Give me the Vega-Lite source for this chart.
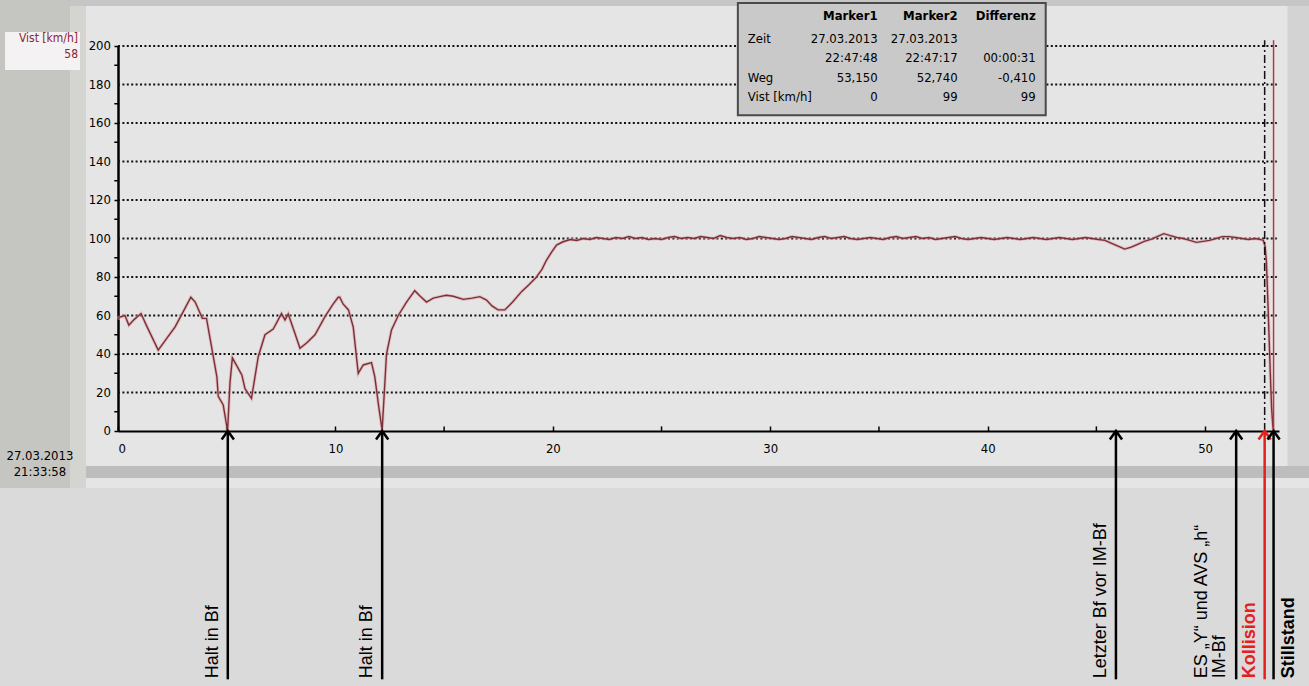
{
  "$schema": "https://vega.github.io/schema/vega-lite/v6.json",
  "width": 1161,
  "height": 385,
  "autosize": {"type": "none"},
  "padding": {"left": 118, "top": 46, "right": 30, "bottom": 255},
  "background": "#e5e5e5",
  "config": {"view": {"stroke": null}, "axis": {"labelOverlap": false}},
  "datasets": {
    "fahrt": [
      {"km": 0.0, "vist": 58}, {"km": 0.05, "vist": 59}, {"km": 0.32, "vist": 60}, {"km": 0.5, "vist": 55},
      {"km": 0.75, "vist": 58}, {"km": 1.06, "vist": 61}, {"km": 1.3, "vist": 55}, {"km": 1.85, "vist": 42},
      {"km": 2.3, "vist": 49}, {"km": 2.62, "vist": 54}, {"km": 3.0, "vist": 62}, {"km": 3.35, "vist": 69.5},
      {"km": 3.55, "vist": 67}, {"km": 3.88, "vist": 58.5}, {"km": 4.07, "vist": 58.5}, {"km": 4.3, "vist": 44},
      {"km": 4.55, "vist": 28}, {"km": 4.61, "vist": 18}, {"km": 4.84, "vist": 13.5}, {"km": 5.04, "vist": 0},
      {"km": 5.15, "vist": 25}, {"km": 5.26, "vist": 38}, {"km": 5.53, "vist": 32.5}, {"km": 5.7, "vist": 29},
      {"km": 5.84, "vist": 22}, {"km": 6.14, "vist": 17}, {"km": 6.45, "vist": 38.6}, {"km": 6.76, "vist": 50},
      {"km": 7.14, "vist": 53}, {"km": 7.52, "vist": 61}, {"km": 7.68, "vist": 57.7}, {"km": 7.83, "vist": 60.8},
      {"km": 8.1, "vist": 52}, {"km": 8.37, "vist": 43}, {"km": 8.7, "vist": 46}, {"km": 9.06, "vist": 50},
      {"km": 9.52, "vist": 59.4}, {"km": 9.9, "vist": 66}, {"km": 10.13, "vist": 69.5}, {"km": 10.2, "vist": 69.5},
      {"km": 10.35, "vist": 66}, {"km": 10.6, "vist": 62.9}, {"km": 10.82, "vist": 54}, {"km": 11.05, "vist": 30},
      {"km": 11.28, "vist": 34.3}, {"km": 11.66, "vist": 35.5}, {"km": 11.81, "vist": 28.2}, {"km": 12.0, "vist": 12},
      {"km": 12.15, "vist": 0.5}, {"km": 12.35, "vist": 40}, {"km": 12.58, "vist": 52.5}, {"km": 12.89, "vist": 60},
      {"km": 13.27, "vist": 67}, {"km": 13.65, "vist": 72.9}, {"km": 13.9, "vist": 70}, {"km": 14.19, "vist": 67},
      {"km": 14.5, "vist": 69}, {"km": 14.8, "vist": 69.8}, {"km": 15.1, "vist": 70.5}, {"km": 15.42, "vist": 70},
      {"km": 15.88, "vist": 68.4}, {"km": 16.3, "vist": 69}, {"km": 16.64, "vist": 69.8}, {"km": 16.95, "vist": 68},
      {"km": 17.2, "vist": 65}, {"km": 17.48, "vist": 62.9}, {"km": 17.79, "vist": 62.9}, {"km": 18.15, "vist": 67},
      {"km": 18.56, "vist": 72.4}, {"km": 18.9, "vist": 76}, {"km": 19.25, "vist": 80}, {"km": 19.5, "vist": 84},
      {"km": 19.71, "vist": 88.8}, {"km": 19.95, "vist": 93}, {"km": 20.17, "vist": 96.6}, {"km": 20.47, "vist": 98.3},
      {"km": 20.8, "vist": 99.5}, {"km": 21.1, "vist": 99}, {"km": 21.4, "vist": 100}, {"km": 21.7, "vist": 99.5},
      {"km": 22.0, "vist": 100.5}, {"km": 22.3, "vist": 100}, {"km": 22.6, "vist": 99.5}, {"km": 22.9, "vist": 100.5},
      {"km": 23.2, "vist": 100}, {"km": 23.5, "vist": 101}, {"km": 23.8, "vist": 100}, {"km": 24.1, "vist": 100.5},
      {"km": 24.4, "vist": 99.5}, {"km": 24.7, "vist": 100}, {"km": 25.0, "vist": 99.5}, {"km": 25.3, "vist": 100.5},
      {"km": 25.6, "vist": 101}, {"km": 25.9, "vist": 100}, {"km": 26.2, "vist": 100.5}, {"km": 26.5, "vist": 100},
      {"km": 26.8, "vist": 101}, {"km": 27.1, "vist": 100.5}, {"km": 27.4, "vist": 100}, {"km": 27.7, "vist": 101.5},
      {"km": 28.0, "vist": 100.5}, {"km": 28.3, "vist": 100}, {"km": 28.6, "vist": 100.5}, {"km": 28.9, "vist": 99.5},
      {"km": 29.2, "vist": 100}, {"km": 29.5, "vist": 101}, {"km": 29.8, "vist": 100.5}, {"km": 30.1, "vist": 100},
      {"km": 30.4, "vist": 99.5}, {"km": 30.7, "vist": 100}, {"km": 31.0, "vist": 101}, {"km": 31.3, "vist": 100.5},
      {"km": 31.6, "vist": 100}, {"km": 31.9, "vist": 99.5}, {"km": 32.2, "vist": 100.5}, {"km": 32.5, "vist": 101},
      {"km": 32.8, "vist": 100}, {"km": 33.1, "vist": 100.5}, {"km": 33.4, "vist": 101}, {"km": 33.7, "vist": 100},
      {"km": 34.0, "vist": 99.5}, {"km": 34.3, "vist": 100}, {"km": 34.6, "vist": 100.5}, {"km": 34.9, "vist": 100},
      {"km": 35.2, "vist": 99.5}, {"km": 35.5, "vist": 100.5}, {"km": 35.8, "vist": 101}, {"km": 36.1, "vist": 100},
      {"km": 36.4, "vist": 100.5}, {"km": 36.7, "vist": 101}, {"km": 37.0, "vist": 100}, {"km": 37.3, "vist": 100.5},
      {"km": 37.6, "vist": 99.5}, {"km": 37.9, "vist": 100}, {"km": 38.2, "vist": 100.5}, {"km": 38.5, "vist": 101},
      {"km": 38.8, "vist": 100}, {"km": 39.1, "vist": 99.5}, {"km": 39.4, "vist": 100}, {"km": 39.7, "vist": 100.5},
      {"km": 40.0, "vist": 100}, {"km": 40.3, "vist": 99.5}, {"km": 40.6, "vist": 100}, {"km": 40.9, "vist": 100.5},
      {"km": 41.2, "vist": 100}, {"km": 41.5, "vist": 99.5}, {"km": 41.8, "vist": 100}, {"km": 42.1, "vist": 100.5},
      {"km": 42.4, "vist": 100}, {"km": 42.7, "vist": 99.5}, {"km": 43.0, "vist": 100}, {"km": 43.3, "vist": 100.5},
      {"km": 43.6, "vist": 100}, {"km": 43.9, "vist": 99.5}, {"km": 44.2, "vist": 100}, {"km": 44.5, "vist": 100.5},
      {"km": 44.8, "vist": 100}, {"km": 45.1, "vist": 99.5}, {"km": 45.4, "vist": 99}, {"km": 45.7, "vist": 97.5},
      {"km": 46.0, "vist": 96}, {"km": 46.3, "vist": 94.5}, {"km": 46.6, "vist": 95.5}, {"km": 46.9, "vist": 97},
      {"km": 47.2, "vist": 98.5}, {"km": 47.5, "vist": 99.5}, {"km": 47.8, "vist": 101}, {"km": 48.1, "vist": 102.5},
      {"km": 48.4, "vist": 101.5}, {"km": 48.7, "vist": 100.5}, {"km": 49.0, "vist": 100}, {"km": 49.3, "vist": 99},
      {"km": 49.6, "vist": 98}, {"km": 49.9, "vist": 98.5}, {"km": 50.2, "vist": 99}, {"km": 50.5, "vist": 100},
      {"km": 50.8, "vist": 101}, {"km": 51.1, "vist": 101}, {"km": 51.4, "vist": 100.5}, {"km": 51.7, "vist": 100},
      {"km": 52.0, "vist": 99.5}, {"km": 52.3, "vist": 100}, {"km": 52.55, "vist": 99.5}, {"km": 52.68, "vist": 99},
      {"km": 52.76, "vist": 96}, {"km": 52.82, "vist": 88}, {"km": 52.88, "vist": 70}, {"km": 52.94, "vist": 50},
      {"km": 53.0, "vist": 30}, {"km": 53.06, "vist": 12}, {"km": 53.12, "vist": 2}, {"km": 53.15, "vist": 0}
    ],
    "ywerte": [
      {"vist": 0}, {"vist": 20}, {"vist": 40}, {"vist": 60}, {"vist": 80}, {"vist": 100},
      {"vist": 120}, {"vist": 140}, {"vist": 160}, {"vist": 180}, {"vist": 200}
    ],
    "zwischenstriche_y": [
      {"vist": 10}, {"vist": 30}, {"vist": 50}, {"vist": 70}, {"vist": 90},
      {"vist": 110}, {"vist": 130}, {"vist": 150}, {"vist": 170}, {"vist": 190}
    ],
    "zwischenstriche_x": [
      {"km": 5}, {"km": 15}, {"km": 25}, {"km": 35}, {"km": 45}
    ],
    "marker": [
      {"marker": "Marker1", "km": 53.15, "vist": 0},
      {"marker": "Marker2", "km": 52.74, "vist": 99}
    ],
    "tabelle": [
      {"spalte": "Bezeichnung", "kopf": "Zeit", "werte": "Weg\nVist [km/h]"},
      {"spalte": "Marker1", "kopf": "Marker1", "werte": "27.03.2013\n22:47:48\n53,150\n0"},
      {"spalte": "Marker2", "kopf": "Marker2", "werte": "27.03.2013\n22:47:17\n52,740\n99"},
      {"spalte": "Differenz", "kopf": "Differenz", "werte": "\u00a0\n00:00:31\n-0,410\n99"}
    ],
    "ereignisse": [
      {"km": 5.05, "ereignis": "Halt in Bf"},
      {"km": 12.15, "ereignis": "Halt in Bf"},
      {"km": 45.9, "ereignis": "Letzter Bf vor IM-Bf"},
      {"km": 51.43, "ereignis": "ES „Y“ und AVS „h“\nIM-Bf"},
      {"km": 52.74, "ereignis": "Kollision"},
      {"km": 53.15, "ereignis": "Stillstand"}
    ]
  },
  "layer": [
    {
      "data": {"name": "ywerte"},
      "transform": [{"filter": "datum.vist > 0"}],
      "mark": {"type": "rule", "color": "#111111", "strokeWidth": 2, "strokeDash": [2, 2.4]},
      "encoding": {
        "x": {
          "datum": 0, "type": "quantitative",
          "scale": {"domain": [0, 53.4], "nice": false, "zero": false},
          "axis": {
            "title": null,
            "values": [0, 10, 20, 30, 40, 50],
            "grid": false,
            "domainColor": "#000", "domainWidth": 2,
            "tickColor": "#000", "tickWidth": 1.5, "tickSize": -5,
            "labelPadding": 16,
            "labelFont": "Liberation Sans Narrow, DejaVu Sans Condensed, sans-serif",
            "labelFontSize": 13, "labelColor": "#000"
          }
        },
        "x2": {"datum": 53.3},
        "y": {
          "field": "vist", "type": "quantitative",
          "scale": {"domain": [0, 200], "nice": false},
          "axis": {
            "title": null,
            "values": [0, 20, 40, 60, 80, 100, 120, 140, 160, 180, 200],
            "grid": false,
            "labels": false,
            "domainColor": "#000", "domainWidth": 2.5,
            "tickColor": "#000", "tickWidth": 1.5, "tickSize": 4
          }
        }
      }
    },
    {
      "data": {"name": "zwischenstriche_y"},
      "mark": {"type": "rule", "color": "#000000", "strokeWidth": 1.5},
      "encoding": {
        "x": {"datum": -0.17, "type": "quantitative"},
        "x2": {"datum": 0},
        "y": {"field": "vist", "type": "quantitative"}
      }
    },
    {
      "data": {"name": "zwischenstriche_x"},
      "mark": {"type": "rule", "color": "#000000", "strokeWidth": 1.5},
      "encoding": {
        "x": {"field": "km", "type": "quantitative"},
        "y": {"datum": 0, "type": "quantitative"},
        "y2": {"datum": 2.4}
      }
    },
    {
      "data": {"name": "fahrt"},
      "mark": {"type": "line", "color": "#d9a3aa", "strokeWidth": 3.2, "opacity": 0.6},
      "encoding": {
        "x": {"field": "km", "type": "quantitative"},
        "y": {"field": "vist", "type": "quantitative"}
      }
    },
    {
      "data": {"name": "fahrt"},
      "mark": {"type": "line", "color": "#7d2f36", "strokeWidth": 1.4},
      "encoding": {
        "x": {"field": "km", "type": "quantitative"},
        "y": {"field": "vist", "type": "quantitative"}
      }
    },
    {
      "data": {"values": [{}]},
      "mark": {"type": "rect", "color": "#c5c5c1"},
      "encoding": {
        "x": {"datum": -5.5, "type": "quantitative"},
        "x2": {"datum": -2.207},
        "y": {"datum": 224, "type": "quantitative"},
        "y2": {"datum": -29.6}
      }
    },
    {
      "data": {"values": [{}]},
      "mark": {"type": "rect", "color": "#d4d4d0"},
      "encoding": {
        "x": {"datum": -2.207, "type": "quantitative"},
        "x2": {"datum": -1.471},
        "y": {"datum": 224, "type": "quantitative"},
        "y2": {"datum": -29.6}
      }
    },
    {
      "data": {"values": [{}]},
      "mark": {"type": "rect", "color": "#c6c6c6"},
      "encoding": {
        "x": {"datum": -2.207, "type": "quantitative"},
        "x2": {"datum": 54.8},
        "y": {"datum": 224, "type": "quantitative"},
        "y2": {"datum": 220.8}
      }
    },
    {
      "data": {"values": [{}]},
      "mark": {"type": "rect", "color": "#d3d3d3"},
      "encoding": {
        "x": {"datum": 53.79, "type": "quantitative"},
        "x2": {"datum": 54.8},
        "y": {"datum": 220.8, "type": "quantitative"},
        "y2": {"datum": -18.2}
      }
    },
    {
      "data": {"values": [{}]},
      "mark": {"type": "rect", "color": "#bdbdbd"},
      "encoding": {
        "x": {"datum": -1.471, "type": "quantitative"},
        "x2": {"datum": 54.8},
        "y": {"datum": -18.2, "type": "quantitative"},
        "y2": {"datum": -24.4}
      }
    },
    {
      "data": {"values": [{}]},
      "mark": {"type": "rect", "color": "#dadada"},
      "encoding": {
        "x": {"datum": -5.5, "type": "quantitative"},
        "x2": {"datum": 54.8},
        "y": {"datum": -29.6, "type": "quantitative"},
        "y2": {"datum": -133}
      }
    },
    {
      "data": {"values": [{}]},
      "mark": {"type": "rect", "color": "#f4f2f2"},
      "encoding": {
        "x": {"datum": -5.195, "type": "quantitative"},
        "x2": {"datum": -1.747},
        "y": {"datum": 207.3, "type": "quantitative"},
        "y2": {"datum": 187.5}
      }
    },
    {
      "data": {"name": "ywerte"},
      "mark": {"type": "text", "align": "right", "baseline": "middle", "dx": -7, "font": "Liberation Sans Narrow, DejaVu Sans Condensed, sans-serif", "fontSize": 13, "color": "#000"},
      "encoding": {
        "x": {"datum": 0, "type": "quantitative"},
        "y": {"field": "vist", "type": "quantitative"},
        "text": {"field": "vist", "type": "quantitative"}
      }
    },
    {
      "data": {"values": [{}]},
      "mark": {"type": "text", "align": "right", "baseline": "top", "lineBreak": "\n", "lineHeight": 16, "font": "Liberation Sans Narrow, DejaVu Sans Condensed, sans-serif", "fontSize": 12, "color": "#8b2332"},
      "encoding": {
        "x": {"datum": -1.84, "type": "quantitative"},
        "y": {"datum": 206.5, "type": "quantitative"},
        "text": {"value": "Vist [km/h]\n58"}
      }
    },
    {
      "data": {"values": [{}]},
      "mark": {"type": "text", "align": "center", "baseline": "top", "lineBreak": "\n", "lineHeight": 16, "font": "Liberation Sans Narrow, DejaVu Sans Condensed, sans-serif", "fontSize": 13, "color": "#000"},
      "encoding": {
        "x": {"datum": -3.59, "type": "quantitative"},
        "y": {"datum": -9.9, "type": "quantitative"},
        "text": {"value": "27.03.2013\n21:33:58"}
      }
    },
    {
      "data": {"name": "marker"},
      "mark": {"type": "rule", "strokeWidth": 1.5},
      "encoding": {
        "x": {"field": "km", "type": "quantitative"},
        "y": {"datum": 0, "type": "quantitative"},
        "y2": {"datum": 203},
        "color": {"field": "marker", "type": "nominal", "scale": {"domain": ["Marker1", "Marker2"], "range": ["#b03a48", "#111111"]}, "legend": null},
        "strokeDash": {"field": "marker", "type": "nominal", "scale": {"domain": ["Marker1", "Marker2"], "range": [[1, 0], [8, 3, 2, 3]]}, "legend": null}
      }
    },
    {
      "data": {"values": [{}]},
      "mark": {"type": "rect", "color": "#c9c9c9", "stroke": "#4a4a4a", "strokeWidth": 2},
      "encoding": {
        "x": {"datum": 28.51, "type": "quantitative"},
        "x2": {"datum": 42.67},
        "y": {"datum": 222.3, "type": "quantitative"},
        "y2": {"datum": 164}
      }
    },
    {
      "data": {"name": "tabelle"},
      "transform": [{"filter": "datum.spalte === 'Marker1'"}],
      "mark": {"type": "text", "align": "right", "baseline": "middle", "font": "Liberation Sans Narrow, DejaVu Sans Condensed, sans-serif", "fontSize": 13, "fontWeight": "bold", "color": "#000"},
      "encoding": {
        "x": {"datum": 34.94, "type": "quantitative"},
        "y": {"datum": 215.6, "type": "quantitative"},
        "text": {"field": "kopf"}
      }
    },
    {
      "data": {"name": "tabelle"},
      "transform": [{"filter": "datum.spalte === 'Marker2'"}],
      "mark": {"type": "text", "align": "right", "baseline": "middle", "font": "Liberation Sans Narrow, DejaVu Sans Condensed, sans-serif", "fontSize": 13, "fontWeight": "bold", "color": "#000"},
      "encoding": {
        "x": {"datum": 38.62, "type": "quantitative"},
        "y": {"datum": 215.6, "type": "quantitative"},
        "text": {"field": "kopf"}
      }
    },
    {
      "data": {"name": "tabelle"},
      "transform": [{"filter": "datum.spalte === 'Differenz'"}],
      "mark": {"type": "text", "align": "right", "baseline": "middle", "font": "Liberation Sans Narrow, DejaVu Sans Condensed, sans-serif", "fontSize": 13, "fontWeight": "bold", "color": "#000"},
      "encoding": {
        "x": {"datum": 42.21, "type": "quantitative"},
        "y": {"datum": 215.6, "type": "quantitative"},
        "text": {"field": "kopf"}
      }
    },
    {
      "data": {"name": "tabelle"},
      "transform": [{"filter": "datum.spalte === 'Bezeichnung'"}],
      "mark": {"type": "text", "align": "left", "baseline": "top", "font": "Liberation Sans Narrow, DejaVu Sans Condensed, sans-serif", "fontSize": 13, "color": "#000"},
      "encoding": {
        "x": {"datum": 28.97, "type": "quantitative"},
        "y": {"datum": 206.8, "type": "quantitative"},
        "text": {"field": "kopf"}
      }
    },
    {
      "data": {"name": "tabelle"},
      "transform": [{"filter": "datum.spalte === 'Bezeichnung'"}],
      "mark": {"type": "text", "align": "left", "baseline": "top", "lineBreak": "\n", "lineHeight": 19.5, "font": "Liberation Sans Narrow, DejaVu Sans Condensed, sans-serif", "fontSize": 13, "color": "#000"},
      "encoding": {
        "x": {"datum": 28.97, "type": "quantitative"},
        "y": {"datum": 186.5, "type": "quantitative"},
        "text": {"field": "werte"}
      }
    },
    {
      "data": {"name": "tabelle"},
      "transform": [{"filter": "datum.spalte === 'Marker1'"}],
      "mark": {"type": "text", "align": "right", "baseline": "top", "lineBreak": "\n", "lineHeight": 19.5, "font": "Liberation Sans Narrow, DejaVu Sans Condensed, sans-serif", "fontSize": 13, "color": "#000"},
      "encoding": {
        "x": {"datum": 34.94, "type": "quantitative"},
        "y": {"datum": 206.8, "type": "quantitative"},
        "text": {"field": "werte"}
      }
    },
    {
      "data": {"name": "tabelle"},
      "transform": [{"filter": "datum.spalte === 'Marker2'"}],
      "mark": {"type": "text", "align": "right", "baseline": "top", "lineBreak": "\n", "lineHeight": 19.5, "font": "Liberation Sans Narrow, DejaVu Sans Condensed, sans-serif", "fontSize": 13, "color": "#000"},
      "encoding": {
        "x": {"datum": 38.62, "type": "quantitative"},
        "y": {"datum": 206.8, "type": "quantitative"},
        "text": {"field": "werte"}
      }
    },
    {
      "data": {"name": "tabelle"},
      "transform": [{"filter": "datum.spalte === 'Differenz'"}],
      "mark": {"type": "text", "align": "right", "baseline": "top", "lineBreak": "\n", "lineHeight": 19.5, "font": "Liberation Sans Narrow, DejaVu Sans Condensed, sans-serif", "fontSize": 13, "color": "#000"},
      "encoding": {
        "x": {"datum": 42.21, "type": "quantitative"},
        "y": {"datum": 206.8, "type": "quantitative"},
        "text": {"field": "werte"}
      }
    },
    {
      "data": {"name": "ereignisse"},
      "mark": {"type": "rule", "strokeWidth": 2.5},
      "encoding": {
        "x": {"field": "km", "type": "quantitative"},
        "y": {"datum": 0, "type": "quantitative"},
        "y2": {"datum": -129},
        "color": {"condition": {"test": "datum.ereignis === 'Kollision'", "value": "#e3201b"}, "value": "#000000"}
      }
    },
    {
      "data": {"name": "ereignisse"},
      "mark": {"type": "point", "shape": "M-1,1.4L0,0L1,1.4", "filled": false, "size": 150, "strokeWidth": 2.5, "opacity": 1},
      "encoding": {
        "x": {"field": "km", "type": "quantitative"},
        "y": {"datum": 0, "type": "quantitative"},
        "color": {"condition": {"test": "datum.ereignis === 'Kollision'", "value": "#e3201b"}, "value": "#000000"}
      }
    },
    {
      "data": {"name": "ereignisse"},
      "transform": [{"filter": "datum.ereignis === 'Halt in Bf' || datum.ereignis === 'Letzter Bf vor IM-Bf'"}],
      "mark": {"type": "text", "angle": 270, "align": "left", "baseline": "middle", "dy": -15, "font": "Liberation Sans, Arial, sans-serif", "fontSize": 18, "color": "#000"},
      "encoding": {
        "x": {"field": "km", "type": "quantitative"},
        "y": {"datum": -128.5, "type": "quantitative"},
        "text": {"field": "ereignis"}
      }
    },
    {
      "data": {"name": "ereignisse"},
      "transform": [{"filter": "indexof(datum.ereignis, 'ES') === 0"}],
      "mark": {"type": "text", "angle": 270, "align": "left", "baseline": "middle", "dy": -34, "lineBreak": "\n", "lineHeight": 18, "font": "Liberation Sans, Arial, sans-serif", "fontSize": 18, "color": "#000"},
      "encoding": {
        "x": {"field": "km", "type": "quantitative"},
        "y": {"datum": -128.5, "type": "quantitative"},
        "text": {"field": "ereignis"}
      }
    },
    {
      "data": {"name": "ereignisse"},
      "transform": [{"filter": "datum.ereignis === 'Kollision'"}],
      "mark": {"type": "text", "angle": 270, "align": "left", "baseline": "middle", "dy": -15, "font": "Liberation Sans, Arial, sans-serif", "fontSize": 18, "fontWeight": "bold", "color": "#e3201b"},
      "encoding": {
        "x": {"field": "km", "type": "quantitative"},
        "y": {"datum": -128.5, "type": "quantitative"},
        "text": {"field": "ereignis"}
      }
    },
    {
      "data": {"name": "ereignisse"},
      "transform": [{"filter": "datum.ereignis === 'Stillstand'"}],
      "mark": {"type": "text", "angle": 270, "align": "left", "baseline": "middle", "dy": 15, "font": "Liberation Sans, Arial, sans-serif", "fontSize": 18, "fontWeight": "bold", "color": "#000"},
      "encoding": {
        "x": {"field": "km", "type": "quantitative"},
        "y": {"datum": -128.5, "type": "quantitative"},
        "text": {"field": "ereignis"}
      }
    }
  ]
}
